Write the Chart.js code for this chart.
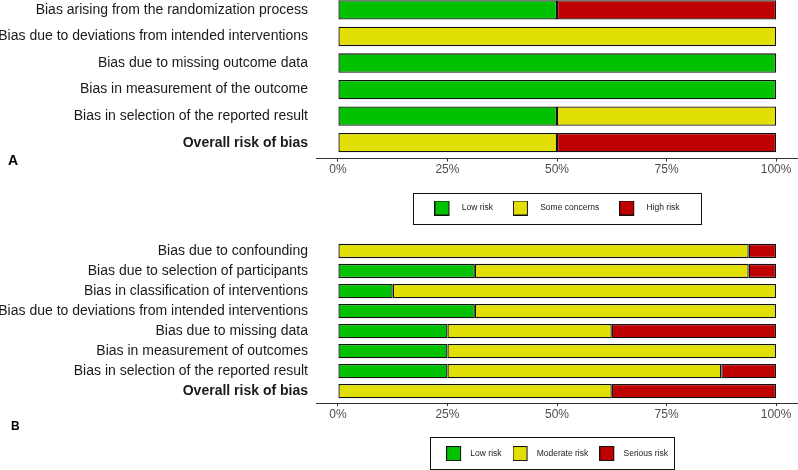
<!DOCTYPE html>
<html>
<head>
<meta charset="utf-8">
<script src="https://cdn.jsdelivr.net/npm/chart.js@4.4.1/dist/chart.umd.min.js"></script>
<style>
  html, body { margin: 0; padding: 0; background: #fff; }
  body { width: 798px; height: 470px; position: relative; overflow: hidden; font-family: 'Liberation Sans', Arial, sans-serif; }
  .panel { position: absolute; left: 0; width: 798px; }
  .tag { position: absolute; font-weight: bold; color: #000; line-height: 1; }
</style>
</head>
<body>
<div class="panel" style="top:-6px;height:232px"><canvas id="chartA"></canvas></div>
<div class="panel" style="top:239px;height:231px"><canvas id="chartB"></canvas></div>
<div class="tag" style="left:8px;top:153px;font-size:14px">A</div>
<div class="tag" style="left:11px;top:420px;font-size:12px">B</div>
<script>
// panel A (RoB 2)
const domainsA = [
  'Bias arising from the randomization process',
  'Bias due to deviations from intended interventions',
  'Bias due to missing outcome data',
  'Bias in measurement of the outcome',
  'Bias in selection of the reported result',
  'Overall risk of bias'
];
const lowA  = [50, 0, 100, 100, 50, 0];
const someA = [0, 100, 0, 0, 50, 50];
const highA = [50, 0, 0, 0, 0, 50];
const levelsA = ['Low risk', 'Some concerns', 'High risk'];

// panel B (ROBINS-I)
const domainsB = [
  'Bias due to confounding',
  'Bias due to selection of participants',
  'Bias in classification of interventions',
  'Bias due to deviations from intended interventions',
  'Bias due to missing data',
  'Bias in measurement of outcomes',
  'Bias in selection of the reported result',
  'Overall risk of bias'
];
const lowB = [0, 31.25, 12.5, 31.25, 25, 25, 25, 0];
const modB = [93.75, 62.5, 87.5, 68.75, 37.5, 75, 62.5, 62.5];
const serB = [6.25, 6.25, 0, 0, 37.5, 0, 12.5, 37.5];
const levelsB = ['Low risk', 'Moderate risk', 'Serious risk'];

const pctTicks = [0, 25, 50, 75, 100];
const colours = ['#02C100', '#E2DF07', '#BF0000'];

Chart.defaults.font.family = "'Liberation Sans', Arial, sans-serif";

// little square key with some room on its right, used as legend point style
function swatch(colour, w) {
  const c = document.createElement('canvas');
  c.width = w; c.height = 15;
  const g = c.getContext('2d');
  g.fillStyle = colour;
  g.fillRect(0.5, 0.5, 14, 14);
  g.strokeStyle = '#111';
  g.lineWidth = 1;
  g.strokeRect(0.5, 0.5, 14, 14);
  return c;
}

const legendFrame = {
  id: 'legendFrame',
  afterDraw(chart, args, o) {
    const boxes = chart.legend && chart.legend.legendHitBoxes;
    if (!boxes || !boxes.length) return;
    const left = Math.min(...boxes.map(b => b.left)) - o.padX[0];
    const right = Math.max(...boxes.map(b => b.left + b.width)) + o.padX[1];
    const cy = boxes[0].top + o.fontSize / 2;
    const ctx = chart.ctx;
    ctx.save();
    ctx.strokeStyle = '#111';
    ctx.lineWidth = 1;
    ctx.strokeRect(Math.round(left) + 0.5, Math.round(cy - o.padY[0]) + 0.5,
      Math.round(right - left), Math.round(o.padY[0] + o.padY[1]));
    ctx.restore();
  }
};

function robChart(id, domains, series, levels, cfg) {
  const n = domains.length;
  const keys = colours.map(c => swatch(c, cfg.keyWidth));
  return new Chart(document.getElementById(id), {
    type: 'bar',
    data: {
      datasets: series.map((vals, k) => ({
        label: levels[k],
        data: vals.map((v, i) => ({ x: v, y: i })),
        backgroundColor: colours[k],
        borderColor: '#111',
        borderWidth: 1.3,
        borderSkipped: false,
        categoryPercentage: 1,
        barPercentage: cfg.barPct
      }))
    },
    options: {
      indexAxis: 'y',
      responsive: true,
      maintainAspectRatio: false,
      animation: false,
      layout: { padding: { top: 0, right: 0, left: 0, bottom: cfg.padBottom } },
      scales: {
        x: {
          type: 'linear',
          stacked: true,
          min: -5,
          max: 105,
          afterBuildTicks: s => { s.ticks = pctTicks.map(v => ({ value: v })); },
          afterFit: s => { s.height = cfg.xHeight; s.paddingLeft = 0; s.paddingRight = 0; },
          ticks: {
            callback: v => v + '%',
            color: '#4D4D4D',
            font: { size: 12 },
            padding: 1,
            maxRotation: 0,
            autoSkip: false
          },
          grid: { display: true, drawOnChartArea: false, drawTicks: true, tickLength: 3, color: '#333333' },
          border: { display: true, color: '#333333', width: 1 }
        },
        y: {
          type: 'linear',
          stacked: true,
          reverse: true,
          offset: false,
          min: -0.6,
          max: n - 0.4,
          afterBuildTicks: s => { s.ticks = domains.map((d, i) => ({ value: i })); },
          afterFit: s => { s.width = 316; s.paddingTop = 0; s.paddingBottom = 0; },
          ticks: {
            callback: v => domains[v],
            color: '#1a1a1a',
            padding: 8,
            autoSkip: false,
            font: c => ({ size: 14, weight: c.tick && c.tick.value === n - 1 ? 'bold' : 'normal' })
          },
          grid: { display: false, drawTicks: false, offset: false },
          border: { display: false }
        }
      },
      plugins: {
        tooltip: { enabled: false },
        legend: {
          position: 'bottom',
          fullSize: false,
          labels: {
            usePointStyle: true,
            pointStyleWidth: cfg.keyWidth,
            padding: cfg.legendPad,
            color: '#1a1a1a',
            font: { size: 8.5 },
            generateLabels: chart => {
              const items = Chart.defaults.plugins.legend.labels.generateLabels(chart);
              items.forEach((it, i) => { it.pointStyle = keys[i]; });
              return items;
            }
          }
        },
        legendFrame: { padX: cfg.frameX, padY: cfg.frameY, fontSize: 8.5 }
      }
    },
    plugins: [legendFrame]
  });
}

robChart('chartA', domainsA, [lowA, someA, highA], levelsA, {
  barPct: 0.73, xHeight: 25.15, padBottom: 3.75, legendPad: 20,
  keyWidth: 23, frameX: [21.5, 21.5], frameY: [15, 16]
});

robChart('chartB', domainsB, [lowB, modB, serB], levelsB, {
  barPct: 0.715, xHeight: 35.2, padBottom: 2.2, legendPad: 11,
  keyWidth: 20, frameX: [16, 6], frameY: [17, 15]
});
</script>
</body>
</html>
